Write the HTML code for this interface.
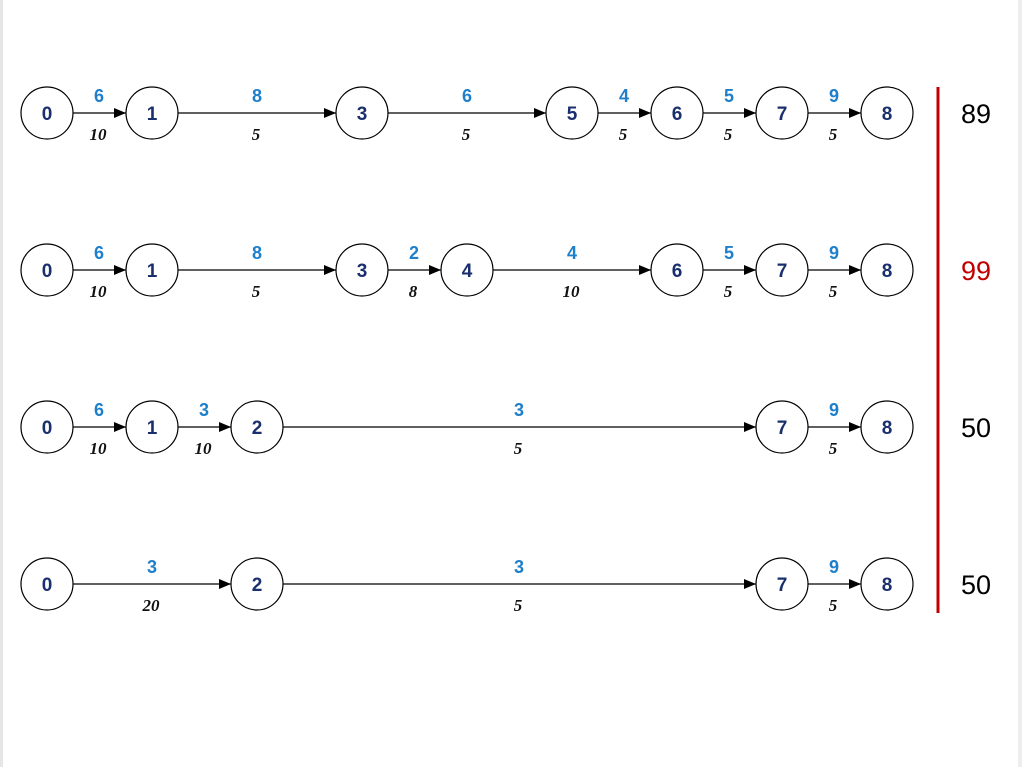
<!DOCTYPE html>
<html><head><style>body{margin:0;background:#fff}svg{display:block}</style></head><body>
<svg width="1024" height="767" viewBox="0 0 1024 767" xmlns="http://www.w3.org/2000/svg">
<defs><marker id="a" markerWidth="12" markerHeight="10" refX="12" refY="5" orient="auto" markerUnits="userSpaceOnUse"><path d="M0,0 L12,5 L0,10 z" fill="#000"/></marker></defs>
<rect x="0" y="0" width="1024" height="767" fill="#fff"/>
<line x1="1.5" y1="0" x2="1.5" y2="767" stroke="#e6e6e6" stroke-width="3"/>
<line x1="1020" y1="0" x2="1020" y2="767" stroke="#eee" stroke-width="4"/>

<g stroke="#000" stroke-width="1.3" marker-end="url(#a)">
<line x1="73" y1="113" x2="126" y2="113"/><line x1="178" y1="113" x2="336" y2="113"/><line x1="388" y1="113" x2="546" y2="113"/><line x1="598" y1="113" x2="651" y2="113"/><line x1="703" y1="113" x2="756" y2="113"/><line x1="808" y1="113" x2="861" y2="113"/>
<line x1="73" y1="270" x2="126" y2="270"/><line x1="178" y1="270" x2="336" y2="270"/><line x1="388" y1="270" x2="441" y2="270"/><line x1="493" y1="270" x2="651" y2="270"/><line x1="703" y1="270" x2="756" y2="270"/><line x1="808" y1="270" x2="861" y2="270"/>
<line x1="73" y1="427" x2="126" y2="427"/><line x1="178" y1="427" x2="231" y2="427"/><line x1="283" y1="427" x2="756" y2="427"/><line x1="808" y1="427" x2="861" y2="427"/>
<line x1="73" y1="584" x2="231" y2="584"/><line x1="283" y1="584" x2="756" y2="584"/><line x1="808" y1="584" x2="861" y2="584"/>
</g>

<g fill="#1e7fcb" font-weight="bold" font-size="18" text-anchor="middle" font-family="Liberation Sans, sans-serif">
<text x="99" y="102">6</text><text x="257" y="102">8</text><text x="467" y="102">6</text><text x="624" y="102">4</text><text x="729" y="102">5</text><text x="834" y="102">9</text>
<text x="99" y="259">6</text><text x="257" y="259">8</text><text x="414" y="259">2</text><text x="572" y="259">4</text><text x="729" y="259">5</text><text x="834" y="259">9</text>
<text x="99" y="416">6</text><text x="204" y="416">3</text><text x="519" y="416">3</text><text x="834" y="416">9</text>
<text x="152" y="573">3</text><text x="519" y="573">3</text><text x="834" y="573">9</text>
</g>

<g fill="#111" font-weight="bold" font-style="italic" font-size="17" text-anchor="middle" font-family="Liberation Serif, serif">
<text x="98" y="140">10</text><text x="256" y="140">5</text><text x="466" y="140">5</text><text x="623" y="140">5</text><text x="728" y="140">5</text><text x="833" y="140">5</text>
<text x="98" y="297">10</text><text x="256" y="297">5</text><text x="413" y="297">8</text><text x="571" y="297">10</text><text x="728" y="297">5</text><text x="833" y="297">5</text>
<text x="98" y="454">10</text><text x="203" y="454">10</text><text x="518" y="454">5</text><text x="833" y="454">5</text>
<text x="151" y="611">20</text><text x="518" y="611">5</text><text x="833" y="611">5</text>
</g>

<g fill="#fff" stroke="#000" stroke-width="1.2">
<circle cx="47" cy="113" r="26"/><circle cx="152" cy="113" r="26"/><circle cx="362" cy="113" r="26"/><circle cx="572" cy="113" r="26"/><circle cx="677" cy="113" r="26"/><circle cx="782" cy="113" r="26"/><circle cx="887" cy="113" r="26"/>
<circle cx="47" cy="270" r="26"/><circle cx="152" cy="270" r="26"/><circle cx="362" cy="270" r="26"/><circle cx="467" cy="270" r="26"/><circle cx="677" cy="270" r="26"/><circle cx="782" cy="270" r="26"/><circle cx="887" cy="270" r="26"/>
<circle cx="47" cy="427" r="26"/><circle cx="152" cy="427" r="26"/><circle cx="257" cy="427" r="26"/><circle cx="782" cy="427" r="26"/><circle cx="887" cy="427" r="26"/>
<circle cx="47" cy="584" r="26"/><circle cx="257" cy="584" r="26"/><circle cx="782" cy="584" r="26"/><circle cx="887" cy="584" r="26"/>
</g>

<g fill="#1a2f6e" font-weight="bold" font-size="19" text-anchor="middle" font-family="Liberation Sans, sans-serif">
<text x="47" y="120">0</text><text x="152" y="120">1</text><text x="362" y="120">3</text><text x="572" y="120">5</text><text x="677" y="120">6</text><text x="782" y="120">7</text><text x="887" y="120">8</text>
<text x="47" y="277">0</text><text x="152" y="277">1</text><text x="362" y="277">3</text><text x="467" y="277">4</text><text x="677" y="277">6</text><text x="782" y="277">7</text><text x="887" y="277">8</text>
<text x="47" y="434">0</text><text x="152" y="434">1</text><text x="257" y="434">2</text><text x="782" y="434">7</text><text x="887" y="434">8</text>
<text x="47" y="591">0</text><text x="257" y="591">2</text><text x="782" y="591">7</text><text x="887" y="591">8</text>
</g>

<line x1="938" y1="87" x2="938" y2="613" stroke="#c00000" stroke-width="3"/>
<g font-family="Liberation Sans, sans-serif" font-size="27" text-anchor="middle">
<text x="976" y="123">89</text>
<text x="976" y="280" fill="#c00000">99</text>
<text x="976" y="437">50</text>
<text x="976" y="594">50</text>
</g>
</svg>
</body></html>
